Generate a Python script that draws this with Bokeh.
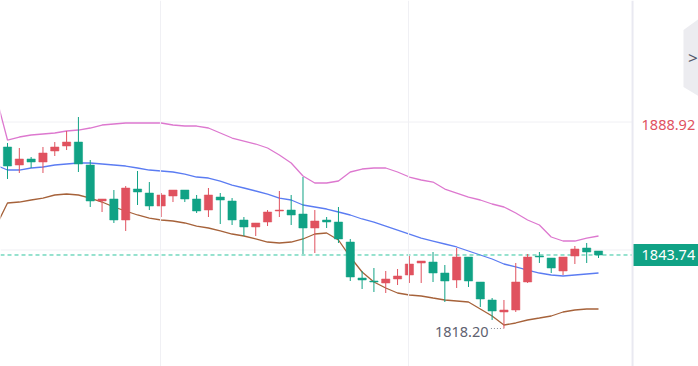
from bokeh.plotting import figure
from bokeh.models import Range1d, Span, ColumnDataSource
from bokeh.core.properties import value
from bokeh.embed import file_html
from bokeh.resources import INLINE

# ---- data ----
opens = [1881.27, 1875.01, 1877.10, 1876.05, 1879.88, 1881.61, 1883.00, 1875.01, 1862.50, 1863.20,
         1855.90, 1866.67, 1865.28, 1860.76, 1864.24, 1866.32, 1863.20, 1859.37, 1863.89, 1862.50,
         1855.90, 1853.47, 1855.20, 1859.03, 1859.37, 1857.98, 1853.12, 1855.90, 1855.20, 1848.25,
         1835.74, 1834.70, 1834.01, 1835.40, 1836.79, 1840.96, 1841.30, 1837.48, 1835.05, 1843.04,
         1834.35, 1828.10, 1823.93, 1824.62, 1834.35, 1843.39, 1842.69, 1838.18, 1843.39, 1846.17,
         1845.13]
closes = [1874.66, 1877.10, 1876.05, 1879.18, 1881.27, 1883.00, 1875.36, 1862.50, 1863.20, 1855.90,
          1867.02, 1865.63, 1860.76, 1864.59, 1866.32, 1863.20, 1859.03, 1864.59, 1862.85, 1855.90,
          1853.47, 1854.86, 1858.68, 1859.37, 1857.64, 1853.12, 1855.55, 1855.20, 1849.30, 1836.09,
          1835.05, 1834.35, 1835.40, 1836.44, 1840.61, 1841.65, 1837.48, 1834.70, 1843.04, 1834.70,
          1828.45, 1824.28, 1824.62, 1834.35, 1843.04, 1843.04, 1839.22, 1843.04, 1845.82, 1844.78,
          1843.74]
highs = [1882.66, 1880.92, 1877.79, 1881.27, 1883.00, 1886.83, 1891.69, 1876.75, 1863.20, 1866.32,
         1867.71, 1872.93, 1869.10, 1865.28, 1866.32, 1866.32, 1864.59, 1867.02, 1865.28, 1863.54,
         1856.94, 1854.86, 1859.37, 1865.98, 1864.59, 1870.84, 1859.37, 1856.94, 1860.42, 1849.30,
         1838.18, 1839.22, 1838.18, 1838.87, 1843.39, 1841.65, 1844.78, 1840.26, 1846.17, 1843.04,
         1834.35, 1828.79, 1828.10, 1840.96, 1844.08, 1844.78, 1842.69, 1843.04, 1846.86, 1847.91,
         1845.13]
lows = [1870.15, 1872.23, 1873.97, 1872.23, 1878.14, 1880.22, 1872.58, 1860.42, 1858.68, 1854.86,
        1852.08, 1861.11, 1859.37, 1856.94, 1862.15, 1862.15, 1858.33, 1856.94, 1854.51, 1854.16,
        1850.34, 1850.34, 1853.81, 1856.94, 1854.16, 1844.08, 1844.43, 1853.12, 1847.91, 1834.70,
        1831.92, 1830.88, 1830.53, 1833.31, 1834.01, 1834.01, 1834.35, 1827.40, 1832.27, 1832.62,
        1825.67, 1821.15, 1818.20, 1823.93, 1834.01, 1840.96, 1837.48, 1836.79, 1840.61, 1840.96,
        1842.69]

# Bollinger bands (first value belongs to the bar just left of the view)
band_upper = [1899.34, 1883.70, 1884.74, 1885.44, 1885.78, 1886.13, 1886.83, 1887.17, 1887.87, 1888.91, 1889.26,
              1889.61, 1889.61, 1889.61, 1889.61, 1888.91, 1888.56, 1888.56, 1887.87, 1886.13, 1884.39,
              1883.35, 1882.31, 1880.92, 1878.49, 1875.71, 1871.19, 1868.76, 1868.76, 1869.45, 1872.58,
              1873.62, 1873.97, 1873.97, 1872.58, 1870.84, 1869.80, 1869.10, 1866.67, 1865.28, 1863.89,
              1862.85, 1861.46, 1860.42, 1858.33, 1855.90, 1854.16, 1849.99, 1848.60, 1848.60, 1849.64,
              1850.34]
band_middle = [1875.01, 1873.27, 1873.27, 1873.97, 1874.32, 1875.01, 1875.36, 1875.71, 1875.71, 1875.36, 1875.01,
               1874.66, 1873.97, 1873.27, 1872.93, 1872.58, 1871.88, 1870.84, 1870.49, 1869.45, 1868.06,
               1867.02, 1865.98, 1864.93, 1863.54, 1862.85, 1861.11, 1860.42, 1859.72, 1858.68, 1857.64,
               1856.25, 1855.20, 1853.81, 1852.42, 1851.03, 1849.64, 1848.60, 1847.56, 1846.52, 1845.13,
               1843.74, 1842.35, 1840.61, 1839.57, 1838.52, 1837.48, 1836.79, 1836.44, 1836.79, 1837.13,
               1837.48]
band_lower = [1853.47, 1861.81, 1862.15, 1862.85, 1863.54, 1864.59, 1864.93, 1864.59, 1863.54, 1862.15, 1860.42,
              1859.03, 1857.64, 1856.59, 1855.90, 1855.55, 1854.86, 1853.81, 1853.12, 1852.08, 1851.03,
              1850.34, 1849.30, 1848.25, 1847.91, 1848.25, 1849.30, 1851.03, 1851.38, 1848.95, 1843.04,
              1837.83, 1834.35, 1832.27, 1830.53, 1829.84, 1829.49, 1828.79, 1828.10, 1827.75, 1827.40,
              1824.97, 1822.54, 1819.41, 1820.11, 1821.15, 1821.84, 1822.54, 1823.93, 1824.62, 1824.97,
              1824.97]

price_ticks = [1888.92]
price_tick_labels = ["1888.92"]
price_grid = [1889.95, 1845.48]
time_grid = [12.94, 33.93]

UP = "#e0525f"
DOWN = "#10a285"
FONT = "Noto Sans"

# layout of the chart area (price scale sits right of the candle pane)
X0, X1 = -0.592, 58.46          # visible bar index range of the whole canvas
Y0, Y1 = 1804.99, 1932.18       # visible price range
PANE_END = 52.88                # bar index where the price scale begins
PX_PER_BAR = 698 / (X1 - X0)

n = len(opens)
xs = list(range(n))
band_x = list(range(-1, n))

tops, bottoms, colors = [], [], []
for o, c in zip(opens, closes):
    t, b = max(o, c), min(o, c)
    if t - b < 0.3:
        mid = (t + b) / 2
        t, b = mid + 0.15, mid - 0.15
    tops.append(t)
    bottoms.append(b)
    colors.append(UP if c >= o else DOWN)

src = ColumnDataSource(dict(x=xs, top=tops, bottom=bottoms, high=highs, low=lows, color=colors))

p = figure(width=698, height=366, output_backend="svg", toolbar_location=None,
           x_range=Range1d(X0, X1), y_range=Range1d(Y0, Y1),
           x_axis_location=None, y_axis_location=None,
           min_border=0)
p.outline_line_color = None
p.background_fill_color = "white"
p.border_fill_color = "white"
p.xgrid.visible = False
p.ygrid.visible = False

# grid
for gx in time_grid:
    p.add_layout(Span(location=gx, dimension="height", line_color="#f0f0f4", line_width=1))
p.segment(x0=[X0] * len(price_grid), y0=price_grid, x1=[PANE_END] * len(price_grid), y1=price_grid,
          line_color="#f0f0f4", line_width=1)

# price-scale border
p.add_layout(Span(location=PANE_END, dimension="height", line_color="#e9e9f1", line_width=2))

# price scale labels
lab_x = PANE_END + 9 / PX_PER_BAR
p.text(x=[lab_x] * len(price_ticks), y=price_ticks, text=price_tick_labels, text_align="left",
       text_baseline="middle", text_font=value(FONT), text_font_size="14.5px", text_color=UP)

# bands
p.line(band_x, band_upper, line_color="#dd78cf", line_width=1.3)
p.line(band_x, band_middle, line_color="#5b7cf2", line_width=1.3)
p.line(band_x, band_lower, line_color="#a6623a", line_width=1.3)

# last price dashed line
p.segment(x0=[X0], y0=[closes[-1]], x1=[PANE_END], y1=[closes[-1]], line_color="#2fc49f",
          line_width=1, line_dash="4 3")

# candles
p.segment(x0="x", y0="high", x1="x", y1="low", line_color="color", line_width=1, source=src)
p.vbar(x="x", top="top", bottom="bottom", width=0.7, fill_color="color", line_color="color",
       line_width=0.5, source=src)

# minimum marker
imin = min(range(n), key=lambda i: lows[i])
p.segment(x0=[imin - 1.1], y0=[lows[imin]], x1=[imin - 0.05], y1=[lows[imin]],
          line_color="#8a8d99", line_width=1, line_dash="1 2")
p.text(x=[imin - 1.3], y=[lows[imin]], text=[f"{lows[imin]:.2f}"], text_align="right",
       text_baseline="middle", y_offset=4, text_font=value(FONT), text_font_size="14.5px",
       text_color="#5f6270")

# last price tag
tag_w = (X1 - PANE_END) * PX_PER_BAR
p.rect(x=[(PANE_END + X1) / 2 + 0.5 / PX_PER_BAR], y=[closes[-1]], width=tag_w, height=22,
       width_units="screen", height_units="screen", fill_color=DOWN, line_color=None)
p.text(x=[lab_x], y=[closes[-1]], text=[f"{closes[-1]:.2f}"], text_align="left",
       text_baseline="middle", text_font=value(FONT), text_font_size="14.5px", text_color="white")

# collapse button on the right edge
p.patch(x=[57.19, 58.6, 58.6, 57.19], y=[1921.93, 1926.10, 1898.64, 1902.12],
        fill_color="#ececf0", line_color=None)
p.text(x=[57.98], y=[1912.54], text=[">"], text_align="center", text_baseline="middle",
       text_font=value(FONT), text_font_size="17px", text_color="#555a6a")

open("out.html", "w").write(file_html(p, INLINE))
